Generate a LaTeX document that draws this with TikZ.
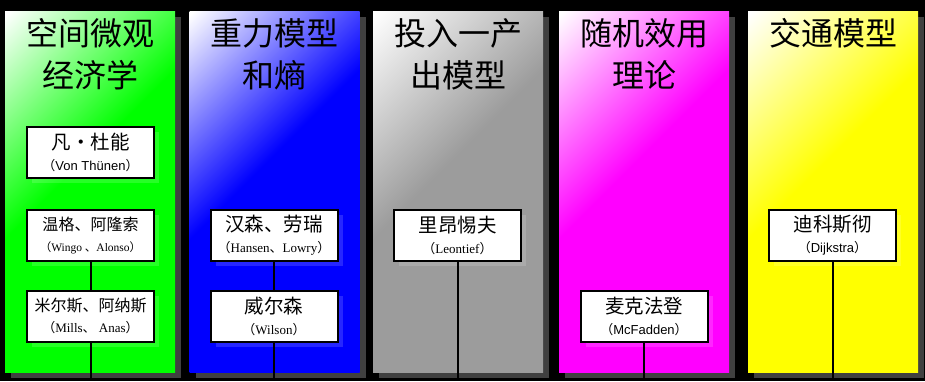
\documentclass[tikz,border=0pt]{standalone}
\usepackage{fontspec}
\setmainfont{Liberation Serif}
\newfontfamily\cjk{Noto Sans CJK SC}
\newfontfamily\lsans{Liberation Sans}
\usetikzlibrary{calc,shadows}
\definecolor{colshadow}{HTML}{404040}
\definecolor{cgray}{HTML}{9C9C9C}
\definecolor{cgreen}{HTML}{00FF00}
\definecolor{cblue}{HTML}{0000FF}
\definecolor{cmag}{HTML}{FF00FF}
\definecolor{cyel}{HTML}{FFFF00}
\colorlet{colA}{cgreen}
\pgfdeclareverticalshading[colA]{colshade}{100bp}{color(0bp)=(colA); color(55bp)=(colA); color(85bp)=(white); color(100bp)=(white)}
\newcommand\zlp{{\cjk （}}
\newcommand\zrp{{\cjk ）}}
\newcommand\zdun{{\cjk 、}}
\newcommand\zbig{\cjk\fontsize{19.5}{21}\selectfont}
\newcommand\zsmall{\cjk\fontsize{16}{20}\selectfont}
\tikzset{
 colbox/.style={rectangle, minimum width=170pt, minimum height=361pt, inner sep=0pt,
   shading=colshade, shading angle=45},
 pbox/.style={rectangle, draw=black, line width=2pt, fill=white,
   minimum width=127pt, minimum height=51pt, inner sep=0pt, align=center,
   font=\fontsize{19}{21}\selectfont,
   drop shadow={shadow xshift=5pt, shadow yshift=-5pt, fill=white, opacity=0.15}},
 ttl/.style={font=\cjk\fontsize{32}{42}\selectfont, align=center, text=black, inner sep=0pt},
 link/.style={draw=black, line width=2pt},
}
\begin{document}
\begin{tikzpicture}[x=1pt,y=-1pt]
\useasboundingbox (0,0) rectangle (925,381);
\fill[black] (0,0) rectangle (925,381);
% columns
\foreach \n/\cx/\col in {c1/90/cgreen, c2/274.5/cblue, c3/458/cgray, c4/644/cmag, c5/833/cyel}{
  \fill[colshadow] (\cx-85+6,11+6) rectangle (\cx+85+6,372+6);
  \colorlet{colA}{\col}
  \node[colbox] (\n) at (\cx,191.5) {};
}
% titles
\node[ttl] (t1) at (90,54) {空间微观\\经济学};
\node[ttl] (t2) at (274.5,54) {重力模型\\和熵};
\node[ttl] (t3) at (458,54) {投入一产\\出模型};
\node[ttl] (t4) at (644,54) {随机效用\\理论};
\node[ttl] (t5) at (833,33) {交通模型};
% end points
\coordinate (e1) at (90.5,381);
\coordinate (e2) at (274,381);
\coordinate (e3) at (457.5,381);
\coordinate (e4) at (644,381);
\coordinate (e5) at (832.5,381);
% boxes
\node[pbox] (b11) at (90.5,152.5) {{\zbig 凡·杜能}\\{\lsans\fontsize{13}{21}\selectfont\zlp Von Thünen\zrp}};
\node[pbox] (b12) at (90.5,235) {{\zsmall 温格、阿隆索}\\{\fontsize{11.5}{21}\selectfont\zlp Wingo \zdun Alonso\zrp}};
\node[pbox] (b13) at (90.5,316) {{\zsmall 米尔斯、阿纳斯}\\{\fontsize{13}{21}\selectfont\zlp Mills\zdun\ Anas\zrp}};
\node[pbox] (b21) at (274,235.5) {{\zbig 汉森、劳瑞}\\{\fontsize{13}{21}\selectfont\zlp Hansen\zdun Lowry\zrp}};
\node[pbox] (b22) at (274,316) {{\zbig 威尔森}\\{\fontsize{13}{21}\selectfont\zlp Wilson\zrp}};
\node[pbox] (b31) at (457.5,235.5) {{\zbig 里昂惕夫}\\{\fontsize{13}{21}\selectfont\zlp Leontief\zrp}};
\node[pbox] (b41) at (644,316) {{\zbig 麦克法登}\\{\lsans\fontsize{13}{21}\selectfont\zlp McFadden\zrp}};
\node[pbox] (b51) at (832.5,235.5) {{\zbig 迪科斯彻}\\{\lsans\fontsize{13}{21}\selectfont\zlp Dijkstra\zrp}};
% links
\draw[link] (b12.south) -- (b13.north);
\draw[link] (b13.south) -- (e1);
\draw[link] (b21.south) -- (b22.north);
\draw[link] (b22.south) -- (e2);
\draw[link] (b31.south) -- (e3);
\draw[link] (b41.south) -- (e4);
\draw[link] (b51.south) -- (e5);
\end{tikzpicture}
\end{document}
